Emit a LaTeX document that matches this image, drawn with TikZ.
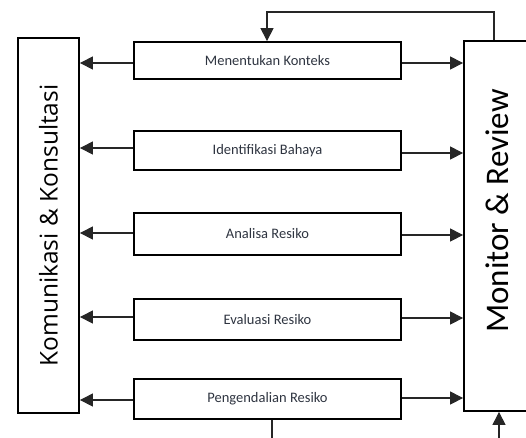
\documentclass[tikz,border=0pt]{standalone}
\usepackage{fontspec}
\setmainfont{Carlito}
\newfontfamily\kfont{Open Sans}
\usetikzlibrary{arrows.meta}
\definecolor{txt}{HTML}{2E3440}
\begin{document}
\begin{tikzpicture}[x=1pt,y=-1pt,
  stepbox/.style={draw=black,line width=1.8pt,minimum width=267pt,inner sep=0pt,font=\fontsize{14.5}{16}\selectfont,text=txt},
  sidebox/.style={draw=black,line width=1.8pt,inner sep=0pt},
  arr/.style={draw=black!85,line width=1.1pt,-{Triangle[length=13pt,width=13pt]}},
  ln/.style={draw=black!85,line width=1.1pt}]
\clip (0,0) rectangle (526,437);
\useasboundingbox (0,0) rectangle (526,437);
\node[sidebox,minimum width=61pt,minimum height=375pt] (kom) at (48.5,225.5) {};
\node[rotate=90,font=\kfont\fontsize{24.5}{28}\selectfont] at (kom.center) {Komunikasi \& Konsultasi};
\node[sidebox,minimum width=67pt,minimum height=370pt] (mon) at (497.5,226) {};
\node[rotate=90,font=\fontsize{33}{38}\selectfont] at ([yshift=15pt]mon.center) {Monitor \& Review};
\node[stepbox,minimum height=37pt] (s1) at (267.5,60.5) {Menentukan Konteks};
\node[stepbox,minimum height=39pt] (s2) at (267.5,150.5) {Identifikasi Bahaya};
\node[stepbox,minimum height=42pt] (s3) at (267.5,234) {Analisa Resiko};
\node[stepbox,minimum height=41pt] (s4) at (267.5,319.5) {Evaluasi Resiko};
\node[stepbox,minimum height=40pt] (s5) at (267.5,399) {Pengendalian Resiko};
% left arrows
\draw[arr] (s1.west |- 0,63) -- (kom.east |- 0,63);
\draw[arr] (s2.west |- 0,148) -- (kom.east |- 0,148);
\draw[arr] (s3.west |- 0,233) -- (kom.east |- 0,233);
\draw[arr] (s4.west |- 0,317) -- (kom.east |- 0,317);
\draw[arr] (s5.west |- 0,400) -- (kom.east |- 0,400);
% right arrows
\draw[arr] (s1.east |- 0,63) -- (mon.west |- 0,63);
\draw[arr] (s2.east |- 0,153) -- (mon.west |- 0,153);
\draw[arr] (s3.east |- 0,235) -- (mon.west |- 0,235);
\draw[arr] (s4.east |- 0,318) -- (mon.west |- 0,318);
\draw[arr] (s5.east |- 0,398) -- (mon.west |- 0,398);
% feedback
\draw[arr] (mon.north -| 494,0) -- (494,12) -- (267,12) -- (s1.north -| 267,0);
% bottom
\coordinate (bl) at (272,440);
\coordinate (br) at (499,440);
\draw[ln] (s5.south -| 272,0) -- (bl);
\draw[arr] (br) -- (mon.south -| 499,0);
\end{tikzpicture}
\end{document}
